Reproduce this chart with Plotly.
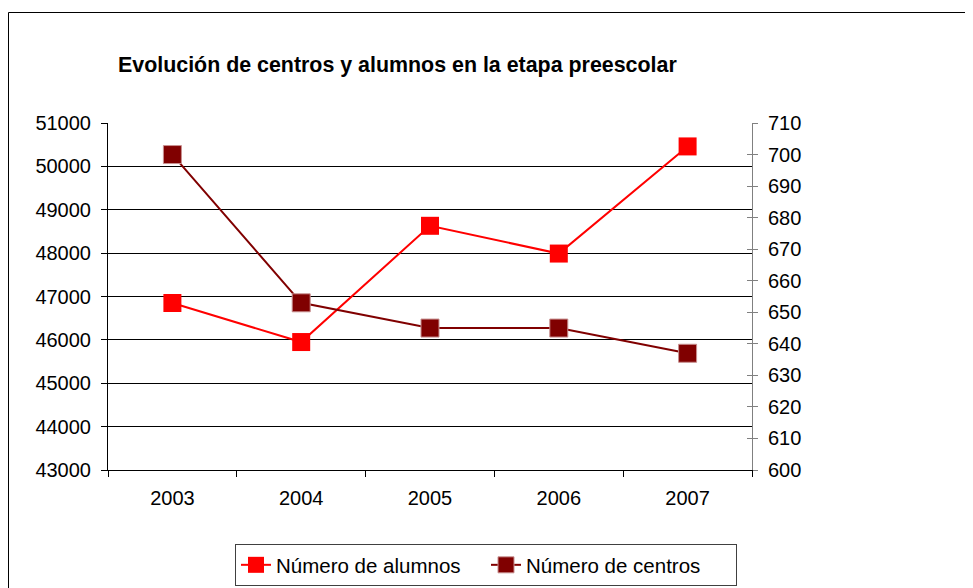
import plotly.graph_objects as go

years = ["2003", "2004", "2005", "2006", "2007"]
alumnos = [46850, 45950, 48630, 47990, 50460]
centros = [700, 653, 645, 645, 637]

OFF = 8  # page body margin
W, H = 973 - OFF, 588 - OFF
L = 108 - OFF
T = 123 - OFF
B = H - (470 - OFF)
R = W - (752 - OFF)
pw, ph = W - L - R, H - T - B

def px_x(p):
    return (p - OFF - L) / pw

def px_y(p):
    return (H - B - (p - OFF)) / ph

font = "Arial, Liberation Sans, sans-serif"

fig = go.Figure()
fig.add_trace(go.Scatter(
    x=years, y=alumnos, name="Número de alumnos", mode="lines+markers",
    line=dict(color="#FF0000", width=2),
    marker=dict(symbol="square", size=18, color="#FF0000"),
    yaxis="y", cliponaxis=False,
))
fig.add_trace(go.Scatter(
    x=years, y=centros, name="Número de centros", mode="lines+markers",
    line=dict(color="#800000", width=2),
    marker=dict(symbol="square", size=18, color="#800000",
                line=dict(color="#C89090", width=1)),
    yaxis="y2", cliponaxis=False,
))
fig.add_trace(go.Scatter(x=years, y=[None] * 5, yaxis="y3", showlegend=False,
                         hoverinfo="skip"))

fig.update_layout(
    width=W, height=H,
    margin=dict(l=L, r=R, t=T, b=B, autoexpand=False),
    paper_bgcolor="white", plot_bgcolor="white",
    font=dict(family=font, size=20, color="black"),
    title=dict(text="<b>Evolución de centros y alumnos en la etapa preescolar</b>",
               x=px_x(118), xref="paper", xanchor="left",
               y=1 - (65 - OFF) / H, yref="container", yanchor="middle",
               font=dict(family=font, size=21.4, color="black")),
    xaxis=dict(type="category", tickson="boundaries", ticks="outside", ticklen=6,
               tickcolor="black", showline=True, linecolor="black", linewidth=1,
               showgrid=False, tickfont=dict(size=20), range=[-0.5, 4.5],
               ticklabelstandoff=10),
    yaxis=dict(range=[43000, 51000], dtick=1000, tickformat="d", ticks="outside",
               ticklen=6, tickcolor="black", showline=True, linecolor="black",
               showgrid=True, gridcolor="black", gridwidth=1, zeroline=False,
               tickfont=dict(size=20), ticklabelstandoff=6),
    yaxis2=dict(range=[600, 710], dtick=10, overlaying="y", side="right",
                ticks="outside", ticklen=5, tickcolor="#808080", showline=True,
                linecolor="#808080", showgrid=False, zeroline=False,
                tickfont=dict(size=20), ticklabelstandoff=6),
    yaxis3=dict(range=[600, 710], dtick=10, overlaying="y", side="right",
                ticks="inside", ticklen=5, tickcolor="#808080", showline=False,
                showticklabels=False, showgrid=False, zeroline=False),
    legend=dict(orientation="h", x=px_x(486), xanchor="center",
                y=px_y(544), yanchor="top", bordercolor="#404040", borderwidth=1,
                font=dict(size=20.5), bgcolor="white", itemwidth=30,
                entrywidth=205, entrywidthmode="pixels"),
    showlegend=True,
)

fig.add_shape(type="rect", xref="paper", yref="paper",
              x0=px_x(8.5), x1=px_x(972), y0=px_y(12.5), y1=px_y(620),
              line=dict(color="black", width=1), layer="below")

fig.write_html("out.html")
